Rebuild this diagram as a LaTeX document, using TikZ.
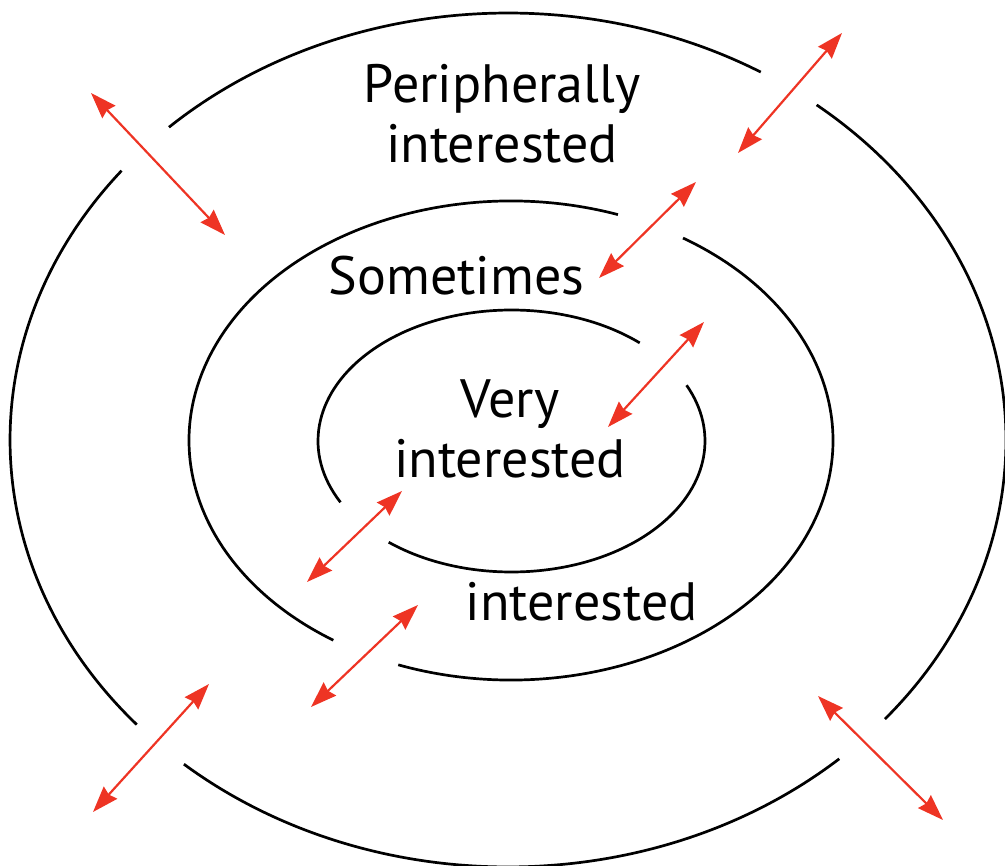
\documentclass[tikz,border=0pt]{standalone}
\usepackage{fontspec}
\setmainfont{PT Sans}
\usetikzlibrary{arrows.meta}
\definecolor{arrowred}{RGB}{238,52,36}
\begin{document}
\begin{tikzpicture}[x=1pt,y=-1pt,
  ring/.style={line width=2.7pt, draw=black},
  twoway/.style={draw=arrowred, line width=2.2pt,
    {Stealth[length=26pt,width=18pt,inset=2.5pt]}-{Stealth[length=26pt,width=18pt,inset=2.5pt]}},
  lbl/.style={font=\fontsize{54}{60}\selectfont, align=center, inner sep=0pt, anchor=base}]
\useasboundingbox (0,0) rectangle (1005,866);

% outer ring
\coordinate (co) at (508,440);
\draw[ring] (co) ++(-59.5:498 and 427) arc[start angle=-59.5, end angle=-132.9, x radius=498, y radius=427];
\draw[ring] (co) ++(-140.9:498 and 427) arc[start angle=-140.9, end angle=-221.8, x radius=498, y radius=427];
\draw[ring] (co) ++(-229.4:498 and 427) arc[start angle=-229.4, end angle=-311.7, x radius=498, y radius=427];
\draw[ring] (co) ++(-319.2:498 and 427) arc[start angle=-319.2, end angle=-411.7, x radius=498, y radius=427];

% middle ring
\coordinate (cm) at (511,440.5);
\draw[ring] (cm) ++(-70.6:322 and 239.5) arc[start angle=-70.6, end angle=-236.5, x radius=322, y radius=239.5];
\draw[ring] (cm) ++(-249.5:322 and 239.5) arc[start angle=-249.5, end angle=-417.7, x radius=322, y radius=239.5];

% inner ring
\coordinate (ci) at (511.5,441);
\draw[ring] (ci) ++(-48.5:193.5 and 131) arc[start angle=-48.5, end angle=-207.9, x radius=193.5, y radius=131];
\draw[ring] (ci) ++(-230.6:193.5 and 131) arc[start angle=-230.6, end angle=-385.2, x radius=193.5, y radius=131];

% labels (anchor=base is the baseline of the last line)
\node[lbl] (peri) at (502,163) {Peripherally\\interested};
\node[lbl] (some) at (456.5,295) {Sometimes};
\node[lbl] (very) at (510,478) {Very\\interested};
\node[lbl] (someint) at (581.5,620) {interested};

% arrow end points
\coordinate (a1s) at (91,93);   \coordinate (a1e) at (225,235);
\coordinate (a2s) at (842,33);  \coordinate (a2e) at (738,153);
\coordinate (a3s) at (696,182); \coordinate (a3e) at (599,278);
\coordinate (a4s) at (704,322); \coordinate (a4e) at (608,427);
\coordinate (a5s) at (402,491); \coordinate (a5e) at (307,582);
\coordinate (a6s) at (418,605); \coordinate (a6e) at (311,707);
\coordinate (a7s) at (209,684); \coordinate (a7e) at (93,812);
\coordinate (a8s) at (818,696); \coordinate (a8e) at (943,820);

\foreach \i in {1,...,8} {\draw[twoway] (a\i s) -- (a\i e);}
\end{tikzpicture}
\end{document}
